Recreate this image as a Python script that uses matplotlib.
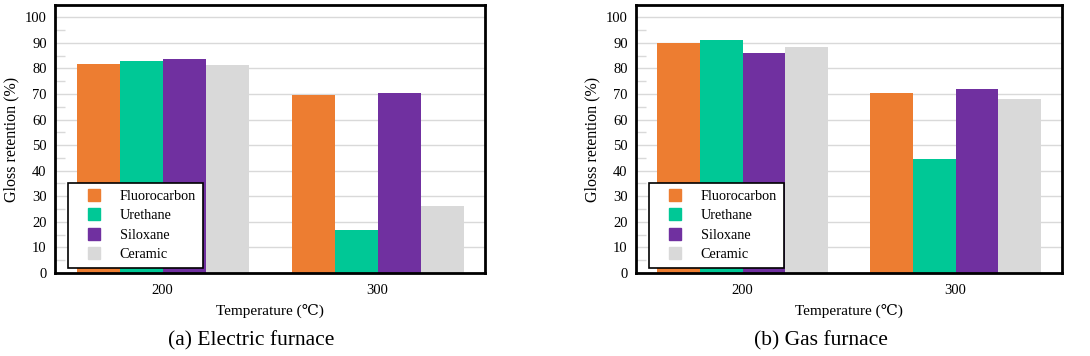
import numpy as np
import matplotlib
matplotlib.use("Agg")
import matplotlib.pyplot as plt
from matplotlib.ticker import MultipleLocator
from matplotlib.lines import Line2D

plt.rcParams['font.family'] = ['Liberation Serif', 'DejaVu Serif']

# data
temps = ['200', '300']
series = ['Fluorocarbon', 'Urethane', 'Siloxane', 'Ceramic']
colors = ['#ED7D31', '#00C896', '#7030A0', '#D9D9D9']

electric_fluoro = [81.7, 69.6]
electric_urethane = [82.9, 16.7]
electric_siloxane = [83.6, 70.2]
electric_ceramic = [81.3, 26.1]

gas_fluoro = [89.8, 70.2]
gas_urethane = [91.1, 44.4]
gas_siloxane = [86.0, 71.8]
gas_ceramic = [88.4, 68.0]

electric = [electric_fluoro, electric_urethane, electric_siloxane, electric_ceramic]
gas = [gas_fluoro, gas_urethane, gas_siloxane, gas_ceramic]

fig = plt.figure(figsize=(10.9, 3.56), dpi=100)
ax1 = fig.add_axes([55 / 1090, 83 / 356, 430 / 1090, 268 / 356])
ax2 = fig.add_axes([636 / 1090, 83 / 356, 426 / 1090, 268 / 356])


def draw(ax, data, caption, cap_x):
    x = np.arange(len(temps))
    w = 0.2
    for i, vals in enumerate(data):
        ax.bar(x + (i - 1.5) * w, vals, w, color=colors[i], zorder=2)
    ax.set_xlim(-0.5, 1.5)
    ax.set_ylim(0, 104.8)
    ax.yaxis.set_minor_locator(MultipleLocator(5))
    ax.set_yticks(np.arange(0, 101, 10))
    ax.grid(axis='y', which='major', color='#d9d9d9', lw=1, zorder=0)
    ax.tick_params(axis='y', which='major', length=0, pad=6, labelsize=10.5)
    ax.tick_params(axis='y', which='minor', direction='in', length=7,
                   color='#d9d9d9', width=1)
    ax.set_xticks(x)
    ax.set_xticklabels(temps)
    ax.tick_params(axis='x', length=0, pad=8, labelsize=10.5)
    for s in ax.spines.values():
        s.set_linewidth(2)
        s.set_color('black')
    ax.set_xlabel('Temperature (℃)', fontsize=11, labelpad=5)
    ax.set_ylabel('Gloss retention (%)', fontsize=11.5, labelpad=4)
    handles = [Line2D([], [], ls='none', marker='s', markersize=8.6,
                      markerfacecolor=c, markeredgecolor=c) for c in colors]
    leg = ax.legend(handles, series, loc='lower left',
                    bbox_to_anchor=(0.03, 0.0175),
                    borderaxespad=0, frameon=True, fancybox=False,
                    edgecolor='black', framealpha=1, fontsize=10.3,
                    handlelength=2.67, handletextpad=0.45,
                    labelspacing=0.45, borderpad=0.5)
    leg.get_frame().set_linewidth(1.2)
    leg.set_zorder(5)
    fig.text(cap_x, 0.042, caption, ha='center', va='center', fontsize=15.5)


draw(ax1, electric, '(a) Electric furnace', 0.2307)
draw(ax2, gas, '(b) Gas furnace', 0.753)

fig.savefig('out.png', dpi=100)
